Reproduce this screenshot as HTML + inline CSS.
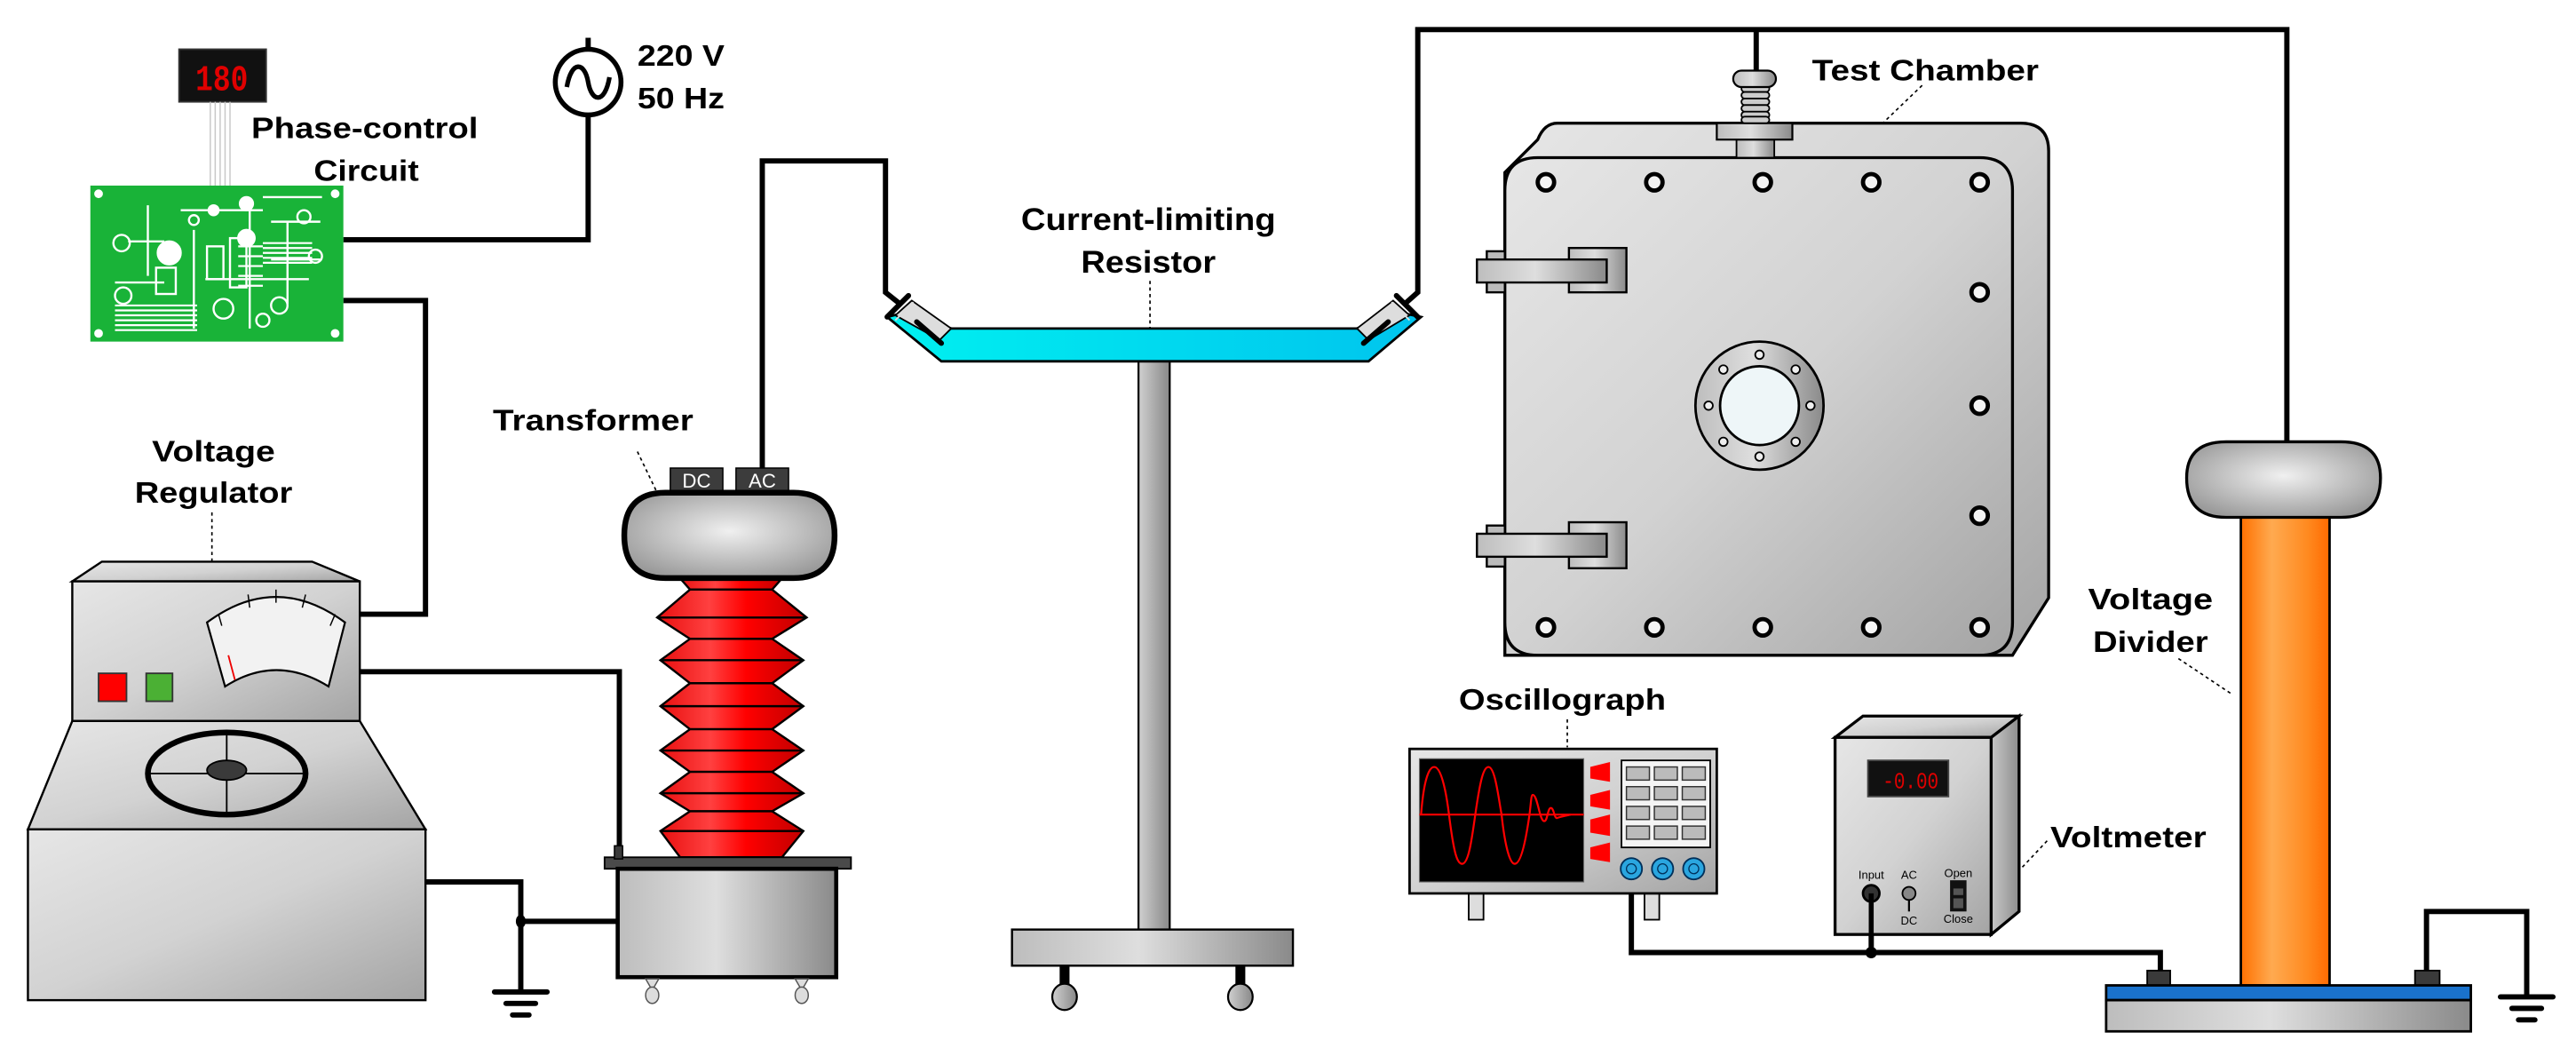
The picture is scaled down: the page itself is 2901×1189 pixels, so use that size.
<!DOCTYPE html>
<html><head><meta charset="utf-8"><style>
html,body{margin:0;padding:0;background:#fff;}
svg{display:block;}
text{font-family:"Liberation Sans",Arial,sans-serif;font-weight:bold;fill:#000;}
</style></head><body>
<svg width="2901" height="1189" viewBox="0 0 1568 643" preserveAspectRatio="none" xmlns="http://www.w3.org/2000/svg">
<defs>
<linearGradient id="gm" x1="0" y1="0" x2="1" y2="1"><stop offset="0" stop-color="#e6e6e6"/><stop offset="0.5" stop-color="#d2d2d2"/><stop offset="1" stop-color="#a4a4a4"/></linearGradient>
<linearGradient id="gh" x1="0" y1="0" x2="1" y2="0"><stop offset="0" stop-color="#bdbdbd"/><stop offset="0.45" stop-color="#dedede"/><stop offset="1" stop-color="#8a8a8a"/></linearGradient>
<linearGradient id="gside" x1="0" y1="0" x2="1" y2="0"><stop offset="0" stop-color="#c8c8c8"/><stop offset="1" stop-color="#8d8d8d"/></linearGradient>
<radialGradient id="gdome" cx="0.5" cy="0.45" r="0.6"><stop offset="0" stop-color="#f0f0f0"/><stop offset="1" stop-color="#9a9a9a"/></radialGradient>
<linearGradient id="gred" x1="0" y1="0" x2="1" y2="0"><stop offset="0" stop-color="#e81010"/><stop offset="0.35" stop-color="#ff4040"/><stop offset="0.6" stop-color="#ff0000"/><stop offset="1" stop-color="#c00000"/></linearGradient>
<linearGradient id="gor" x1="0" y1="0" x2="1" y2="0"><stop offset="0" stop-color="#ff7000"/><stop offset="0.35" stop-color="#ffaa50"/><stop offset="0.75" stop-color="#ff8a20"/><stop offset="1" stop-color="#ff6a00"/></linearGradient>
<linearGradient id="gcy" x1="0" y1="0" x2="1" y2="0"><stop offset="0" stop-color="#00f0f0"/><stop offset="1" stop-color="#00c4ee"/></linearGradient>
<linearGradient id="gpole" x1="0" y1="0" x2="1" y2="0"><stop offset="0" stop-color="#d0d0d0"/><stop offset="1" stop-color="#888"/></linearGradient>
</defs>

<!-- ===== Wires ===== -->
<g fill="none" stroke="#000" stroke-width="3.2" stroke-linejoin="miter">
<polyline points="358,70 358,146 209,146"/>
<line x1="358" y1="23" x2="358" y2="30"/>
<polyline points="209,183 259,183 259,374 219,374"/>
<polyline points="219,409 377,409 377,516"/>
<polyline points="259,537 317,537 317,603"/>
<line x1="317" y1="561" x2="376" y2="561"/>
<polyline points="464,285 464,98 539,98 539,178 549,186"/>
<polyline points="854,186 863,178 863,18 1392,18 1392,269"/>
<line x1="1069" y1="18" x2="1069" y2="43"/>
<polyline points="993,544 993,580 1315,580 1315,592"/>
<line x1="1139" y1="544" x2="1139" y2="580"/>
<polyline points="1477,592 1477,555 1538,555 1538,607"/>
</g>
<circle cx="1139" cy="580" r="3.5"/>
<ellipse cx="317" cy="561" rx="3" ry="4"/>
<g stroke="#000" stroke-width="3.2" stroke-linecap="round">
<line x1="301" y1="604" x2="333" y2="604"/><line x1="308" y1="611" x2="326" y2="611"/><line x1="312" y1="618" x2="322" y2="618"/>
<line x1="1522" y1="607" x2="1554" y2="607"/><line x1="1529" y1="614" x2="1547" y2="614"/><line x1="1533" y1="621" x2="1543" y2="621"/>
</g>

<!-- ===== AC source ===== -->
<circle cx="358" cy="50" r="20" fill="#fff" stroke="#000" stroke-width="3"/>
<path d="M345,53 C348,36 356,38 358,50 C360,62 368,64 371,47" fill="none" stroke="#000" stroke-width="2.8"/>
<text x="388" y="40" font-size="18" textLength="53" lengthAdjust="spacingAndGlyphs">220 V</text>
<text x="388" y="66" font-size="18" textLength="53" lengthAdjust="spacingAndGlyphs">50 Hz</text>

<!-- ===== Display 180 + PCB ===== -->
<rect x="109" y="30" width="53" height="32" fill="#111" stroke="#333" stroke-width="1"/>
<text x="135" y="55" font-size="22" text-anchor="middle" style="fill:#e00000;font-family:'Liberation Mono',monospace" textLength="32" lengthAdjust="spacingAndGlyphs">180</text>
<g stroke="#c8c8c8" stroke-width="0.8"><line x1="128" y1="62" x2="128" y2="113"/><line x1="131" y1="62" x2="131" y2="113"/><line x1="134" y1="62" x2="134" y2="113"/><line x1="137" y1="62" x2="137" y2="113"/><line x1="140" y1="62" x2="140" y2="113"/></g>
<text x="153" y="84" font-size="18" textLength="138" lengthAdjust="spacingAndGlyphs">Phase-control</text>
<text x="191" y="110" font-size="18" textLength="64" lengthAdjust="spacingAndGlyphs">Circuit</text>
<rect x="55" y="113" width="154" height="95" fill="#19b338"/>
<g stroke="#fff" stroke-width="1.3" fill="none">
<circle cx="60" cy="118" r="2" fill="#fff"/><circle cx="204" cy="118" r="2" fill="#fff"/><circle cx="60" cy="203" r="2" fill="#fff"/><circle cx="204" cy="203" r="2" fill="#fff"/>
<circle cx="74" cy="148" r="5"/><circle cx="103" cy="154" r="7" fill="#fff"/><circle cx="75" cy="180" r="5"/><circle cx="150" cy="145" r="5" fill="#fff"/>
<circle cx="185" cy="132" r="4"/><circle cx="170" cy="186" r="5"/><circle cx="192" cy="156" r="4"/><circle cx="136" cy="188" r="6"/>
<circle cx="150" cy="124" r="4" fill="#fff"/><circle cx="118" cy="134" r="3"/><circle cx="130" cy="128" r="3" fill="#fff"/><circle cx="160" cy="195" r="4"/>
<line x1="78" y1="147" x2="100" y2="147"/><line x1="152" y1="128" x2="152" y2="200"/><line x1="110" y1="128" x2="160" y2="128"/>
<line x1="165" y1="135" x2="195" y2="135"/><line x1="165" y1="158" x2="195" y2="158"/><line x1="175" y1="135" x2="175" y2="185"/>
<line x1="70" y1="172" x2="100" y2="172"/><line x1="125" y1="170" x2="188" y2="170"/>
<line x1="90" y1="125" x2="90" y2="168"/><line x1="118" y1="140" x2="118" y2="200"/><line x1="160" y1="120" x2="196" y2="120"/>
<rect x="126" y="150" width="10" height="20"/><rect x="95" y="163" width="12" height="16"/><rect x="140" y="145" width="10" height="30"/>
</g>
<g stroke="#fff" stroke-width="1.2">
<line x1="160" y1="148" x2="190" y2="148"/><line x1="160" y1="151" x2="190" y2="151"/><line x1="160" y1="154" x2="190" y2="154"/><line x1="160" y1="157" x2="190" y2="157"/><line x1="160" y1="160" x2="190" y2="160"/>
<line x1="70" y1="186" x2="120" y2="186"/><line x1="70" y1="189" x2="120" y2="189"/><line x1="70" y1="192" x2="120" y2="192"/><line x1="70" y1="195" x2="120" y2="195"/><line x1="70" y1="198" x2="120" y2="198"/><line x1="70" y1="201" x2="120" y2="201"/>
<line x1="145" y1="150" x2="160" y2="150"/><line x1="145" y1="156" x2="160" y2="156"/><line x1="145" y1="162" x2="160" y2="162"/><line x1="145" y1="168" x2="160" y2="168"/><line x1="145" y1="174" x2="160" y2="174"/>
</g>

<!-- ===== Voltage regulator ===== -->
<text x="130" y="281" font-size="18" text-anchor="middle" textLength="75" lengthAdjust="spacingAndGlyphs">Voltage</text>
<text x="130" y="306" font-size="18" text-anchor="middle" textLength="96" lengthAdjust="spacingAndGlyphs">Regulator</text>
<line x1="129" y1="312" x2="129" y2="342" stroke="#000" stroke-width="0.9" stroke-dasharray="2,2"/>
<polygon points="62,342 190,342 219,354 44,354" fill="url(#gm)" stroke="#000" stroke-width="1.3"/>
<rect x="44" y="354" width="175" height="85" fill="url(#gm)" stroke="#000" stroke-width="1.3"/>
<rect x="60" y="410" width="17" height="17" fill="#f00" stroke="#333"/>
<rect x="89" y="410" width="16" height="17" fill="#4bb034" stroke="#333"/>
<path d="M126,379 Q168,348 210,379 L200,418 Q168,398 137,418 Z" fill="#f2f2f2" stroke="#000" stroke-width="1.2"/>
<g stroke="#000" stroke-width="0.8"><line x1="133" y1="374" x2="135" y2="381"/><line x1="151" y1="362" x2="152" y2="370"/><line x1="168" y1="359" x2="168" y2="367"/><line x1="186" y1="362" x2="184" y2="370"/><line x1="204" y1="374" x2="201" y2="381"/></g>
<line x1="139" y1="399" x2="143" y2="414" stroke="#e00" stroke-width="1"/>
<polygon points="44,439 219,439 259,505 17,505" fill="url(#gm)" stroke="#000" stroke-width="1.3"/>
<rect x="17" y="505" width="242" height="104" fill="url(#gm)" stroke="#000" stroke-width="1.3"/>
<ellipse cx="138" cy="471" rx="48" ry="25" fill="none" stroke="#000" stroke-width="3.5"/>
<line x1="90" y1="471" x2="186" y2="471" stroke="#000" stroke-width="1"/><line x1="138" y1="446" x2="138" y2="496" stroke="#000" stroke-width="1"/>
<ellipse cx="138" cy="469" rx="12" ry="6" fill="#3a3a3a" stroke="#000"/>

<!-- ===== Transformer ===== -->
<text x="300" y="262" font-size="18" textLength="122" lengthAdjust="spacingAndGlyphs">Transformer</text>
<line x1="388" y1="275" x2="400" y2="300" stroke="#000" stroke-width="0.9" stroke-dasharray="2,2"/>
<rect x="408" y="285" width="32" height="14" fill="#3c3c3c" stroke="#000" stroke-width="0.8"/>
<rect x="448" y="285" width="32" height="14" fill="#3c3c3c" stroke="#000" stroke-width="0.8"/>
<text x="424" y="297" font-size="12" text-anchor="middle" style="fill:#fff;font-weight:normal">DC</text>
<text x="464" y="297" font-size="12" text-anchor="middle" style="fill:#fff;font-weight:normal">AC</text>
<g stroke="#000" stroke-width="1.3" fill="url(#gred)">
<polygon points="413,351 477,351 470,359 420,359"/>
<polygon points="420,359 470,359 491,376 470,389 420,389 400,376"/>
<line x1="400" y1="376" x2="491" y2="376"/>
<polygon points="420,389 470,389 489,402 470,416 420,416 402,402"/>
<line x1="402" y1="402" x2="489" y2="402"/>
<polygon points="420,416 470,416 489,430 470,444 420,444 402,430"/>
<line x1="402" y1="430" x2="489" y2="430"/>
<polygon points="420,444 470,444 489,457 470,470 420,470 402,457"/>
<line x1="402" y1="457" x2="489" y2="457"/>
<polygon points="420,470 470,470 489,483 470,494 420,494 402,483"/>
<line x1="402" y1="483" x2="489" y2="483"/>
<polygon points="420,494 470,494 489,506 476,522 414,522 402,506"/>
<line x1="402" y1="506" x2="489" y2="506"/>
</g>
<path d="M405,300 L483,300 Q508,300 508,326 Q508,352 483,352 L405,352 Q380,352 380,326 Q380,300 405,300 Z" fill="url(#gdome)" stroke="#000" stroke-width="3.5"/>
<rect x="368" y="522" width="150" height="7" fill="#4a4a4a" stroke="#000" stroke-width="1"/>
<rect x="374" y="515" width="5" height="8" fill="#3a3a3a" stroke="#000" stroke-width="0.8"/>
<rect x="376" y="529" width="133" height="66" fill="url(#gh)" stroke="#000" stroke-width="2.5"/>
<g fill="#ddd" stroke="#555" stroke-width="0.8">
<polygon points="393,596 401,596 397,603"/><ellipse cx="397" cy="606" rx="4" ry="5"/>
<polygon points="484,596 492,596 488,603"/><ellipse cx="488" cy="606" rx="4" ry="5"/>
</g>

<!-- ===== Current-limiting resistor ===== -->
<text x="699" y="140" font-size="19" text-anchor="middle" textLength="155" lengthAdjust="spacingAndGlyphs">Current-limiting</text>
<text x="699" y="166" font-size="19" text-anchor="middle" textLength="82" lengthAdjust="spacingAndGlyphs">Resistor</text>
<line x1="700" y1="171" x2="700" y2="200" stroke="#000" stroke-width="0.9" stroke-dasharray="2,2"/>
<rect x="693" y="220" width="19" height="346" fill="url(#gpole)" stroke="#000" stroke-width="1.2"/>
<polygon points="552,190 579,200 826,200 851,190 865,193 833,220 573,220 540,193" fill="url(#gcy)" stroke="#000" stroke-width="1.5"/>
<!-- end fittings -->
<polygon points="545,192 555,183 579,200 572,207" fill="#ddd" stroke="#000" stroke-width="1"/>
<polygon points="858,192 848,183 826,200 833,207" fill="#ddd" stroke="#000" stroke-width="1"/>
<g stroke="#000" stroke-width="3.2" stroke-linecap="round">
<line x1="540" y1="193" x2="553" y2="180"/><line x1="573" y1="209" x2="558" y2="196"/>
<line x1="863" y1="193" x2="850" y2="180"/><line x1="830" y1="209" x2="845" y2="196"/>
</g>
<line x1="545" y1="195" x2="556" y2="184" stroke="#ddd" stroke-width="1"/>
<line x1="858" y1="195" x2="847" y2="184" stroke="#ddd" stroke-width="1"/>
<rect x="616" y="566" width="171" height="22" fill="url(#gh)" stroke="#000" stroke-width="1.3"/>
<rect x="645" y="588" width="6" height="12" fill="#000"/><rect x="752" y="588" width="6" height="12" fill="#000"/>
<ellipse cx="648" cy="607" rx="7.5" ry="8" fill="url(#gpole)" stroke="#000" stroke-width="1.2"/>
<ellipse cx="755" cy="607" rx="7.5" ry="8" fill="url(#gpole)" stroke="#000" stroke-width="1.2"/>

<!-- ===== Test chamber ===== -->
<text x="1103" y="49" font-size="18" textLength="138" lengthAdjust="spacingAndGlyphs">Test Chamber</text>
<line x1="1170" y1="52" x2="1146" y2="75" stroke="#000" stroke-width="0.9" stroke-dasharray="2,2"/>
<path d="M948,75 L1230,75 Q1247,75 1247,92 L1247,364 L1225,399 L916,399 L916,105 L936,85 Q940,75 948,75 Z" fill="url(#gm)" stroke="#000" stroke-width="1.8"/>
<path d="M936,96 L1205,96 Q1225,96 1225,116 L1225,379 Q1225,399 1205,399 L936,399 Q916,399 916,379 L916,116 Q916,96 936,96 Z" fill="url(#gm)" stroke="#000" stroke-width="1.8"/>
<rect x="1057" y="85" width="23" height="11" fill="url(#gh)" stroke="#000" stroke-width="1"/>
<rect x="1045" y="75" width="46" height="10" fill="url(#gh)" stroke="#000" stroke-width="1.2"/>
<g fill="#ccc" stroke="#000" stroke-width="1"><rect x="1060" y="52" width="17" height="4" rx="2"/><rect x="1060" y="56" width="17" height="4" rx="2"/><rect x="1060" y="60" width="17" height="4" rx="2"/><rect x="1060" y="64" width="17" height="4" rx="2"/><rect x="1060" y="68" width="17" height="4" rx="2"/><rect x="1060" y="71" width="17" height="4" rx="2"/></g>
<rect x="1055" y="43" width="26" height="10" rx="5" fill="url(#gh)" stroke="#000" stroke-width="1.2"/>
<g fill="#f4f4f4" stroke="#000" stroke-width="2.6">
<circle cx="941" cy="111" r="5"/><circle cx="1007" cy="111" r="5"/><circle cx="1073" cy="111" r="5"/><circle cx="1139" cy="111" r="5"/><circle cx="1205" cy="111" r="5"/>
<circle cx="941" cy="382" r="5"/><circle cx="1007" cy="382" r="5"/><circle cx="1073" cy="382" r="5"/><circle cx="1139" cy="382" r="5"/><circle cx="1205" cy="382" r="5"/>
<circle cx="1205" cy="178" r="5"/><circle cx="1205" cy="247" r="5"/><circle cx="1205" cy="314" r="5"/>
</g>
<g stroke="#000" stroke-width="1.3">
<rect x="905" y="153" width="11" height="25" fill="#bbb"/><rect x="955" y="151" width="35" height="27" fill="url(#gh)"/><rect x="899" y="158" width="79" height="14" fill="url(#gh)"/>
<rect x="905" y="320" width="11" height="25" fill="#bbb"/><rect x="955" y="318" width="35" height="28" fill="url(#gh)"/><rect x="899" y="325" width="79" height="14" fill="url(#gh)"/>
</g>
<ellipse cx="1071" cy="247" rx="39" ry="39" fill="url(#gh)" stroke="#000" stroke-width="1.5"/>
<ellipse cx="1071" cy="247" rx="24" ry="24" fill="#eef6f8" stroke="#000" stroke-width="1.5"/>
<g fill="#eee" stroke="#000" stroke-width="1">
<circle cx="1071" cy="216" r="2.6"/><circle cx="1093" cy="225" r="2.6"/><circle cx="1102" cy="247" r="2.6"/><circle cx="1093" cy="269" r="2.6"/><circle cx="1071" cy="278" r="2.6"/><circle cx="1049" cy="269" r="2.6"/><circle cx="1040" cy="247" r="2.6"/><circle cx="1049" cy="225" r="2.6"/>
</g>

<!-- ===== Voltage divider ===== -->
<text x="1309" y="371" font-size="18" text-anchor="middle" textLength="76" lengthAdjust="spacingAndGlyphs">Voltage</text>
<text x="1309" y="397" font-size="18" text-anchor="middle" textLength="70" lengthAdjust="spacingAndGlyphs">Divider</text>
<line x1="1326" y1="401" x2="1359" y2="423" stroke="#000" stroke-width="0.9" stroke-dasharray="2,2"/>
<rect x="1364" y="314" width="54" height="286" fill="url(#gor)" stroke="#000" stroke-width="1.5"/>
<path d="M1355,269 L1425,269 Q1449,269 1449,291 Q1449,315 1425,315 L1355,315 Q1331,315 1331,291 Q1331,269 1355,269 Z" fill="url(#gdome)" stroke="#000" stroke-width="1.8"/>
<rect x="1307" y="591" width="14" height="9" fill="#3a3a3a" stroke="#000"/>
<rect x="1470" y="591" width="15" height="9" fill="#3a3a3a" stroke="#000"/>
<rect x="1282" y="600" width="222" height="9" fill="#1a72cc" stroke="#000" stroke-width="1.5"/>
<rect x="1282" y="609" width="222" height="19" fill="url(#gh)" stroke="#000" stroke-width="1.5"/>

<!-- ===== Oscillograph ===== -->
<text x="888" y="432" font-size="18" textLength="126" lengthAdjust="spacingAndGlyphs">Oscillograph</text>
<line x1="954" y1="438" x2="954" y2="455" stroke="#000" stroke-width="0.9" stroke-dasharray="2,2"/>
<rect x="894" y="544" width="9" height="16" fill="#ddd" stroke="#000"/>
<rect x="1001" y="544" width="9" height="16" fill="#ddd" stroke="#000"/>
<rect x="858" y="456" width="187" height="88" fill="url(#gm)" stroke="#000" stroke-width="1.5"/>
<rect x="864" y="462" width="100" height="75" fill="#000" stroke="#666" stroke-width="0.6"/>
<line x1="864" y1="496" x2="964" y2="496" stroke="#f00" stroke-width="1.2"/>
<path d="M865,496 C867,470 871,467 873,467 C877,467 880,480 882,496 C885,520 887,526 890,526 C894,526 896,510 898,496 C901,475 903,467 906,467 C910,467 912,485 914,496 C916,515 919,526 922,526 C926,526 929,510 931,496 C932,488 932,484 933,484 C936,484 937,500 940,500 C942,500 942,492 944,492 C946,492 946,499 948,498 C951,497 952,497 956,496" fill="none" stroke="#f00" stroke-width="1.2"/>
<g fill="#f00"><polygon points="968,467 980,464 980,476 968,474"/><polygon points="968,484 980,481 980,493 968,491"/><polygon points="968,499 980,496 980,509 968,507"/><polygon points="968,516 980,513 980,525 968,523"/></g>
<rect x="987" y="463" width="54" height="53" fill="#f4f4f4" stroke="#000" stroke-width="1"/>
<g fill="#bbb" stroke="#333" stroke-width="0.8">
<rect x="990" y="467" width="14" height="8"/><rect x="1007" y="467" width="14" height="8"/><rect x="1024" y="467" width="14" height="8"/>
<rect x="990" y="479" width="14" height="8"/><rect x="1007" y="479" width="14" height="8"/><rect x="1024" y="479" width="14" height="8"/>
<rect x="990" y="491" width="14" height="8"/><rect x="1007" y="491" width="14" height="8"/><rect x="1024" y="491" width="14" height="8"/>
<rect x="990" y="503" width="14" height="8"/><rect x="1007" y="503" width="14" height="8"/><rect x="1024" y="503" width="14" height="8"/>
</g>
<g fill="#2aa6e0" stroke="#00305a" stroke-width="1">
<circle cx="993" cy="529" r="6.5"/><circle cx="1012" cy="529" r="6.5"/><circle cx="1031" cy="529" r="6.5"/>
</g>
<g fill="none" stroke="#00305a" stroke-width="0.7"><circle cx="993" cy="529" r="3"/><circle cx="1012" cy="529" r="3"/><circle cx="1031" cy="529" r="3"/></g>

<!-- ===== Voltmeter ===== -->
<text x="1248" y="516" font-size="18" textLength="95" lengthAdjust="spacingAndGlyphs">Voltmeter</text>
<line x1="1231" y1="528" x2="1247" y2="511" stroke="#000" stroke-width="0.9" stroke-dasharray="2,2"/>
<polygon points="1117,449 1134,436 1229,436 1212,449" fill="url(#gm)" stroke="#000" stroke-width="1.8"/>
<polygon points="1212,449 1229,436 1229,555 1212,569" fill="url(#gside)" stroke="#000" stroke-width="1.8"/>
<rect x="1117" y="449" width="95" height="120" fill="url(#gm)" stroke="#000" stroke-width="1.8"/>
<rect x="1137" y="463" width="49" height="22" fill="#111" stroke="#444"/>
<text x="1180" y="480" font-size="14" text-anchor="end" style="fill:#e00000;font-weight:normal;font-family:'Liberation Mono',monospace" textLength="34" lengthAdjust="spacingAndGlyphs">-0.00</text>
<g font-size="7" text-anchor="middle">
<text x="1139" y="535" style="font-weight:normal">Input</text>
<text x="1162" y="535" style="font-weight:normal">AC</text>
<text x="1162" y="563" style="font-weight:normal">DC</text>
<text x="1192" y="534" style="font-weight:normal">Open</text>
<text x="1192" y="562" style="font-weight:normal">Close</text>
</g>
<circle cx="1139" cy="544" r="5" fill="#333" stroke="#000" stroke-width="1.5"/>
<line x1="1162" y1="546" x2="1162" y2="555" stroke="#000" stroke-width="1.2"/>
<circle cx="1162" cy="544" r="4" fill="#888" stroke="#000" stroke-width="1"/>
<rect x="1187" y="536" width="10" height="19" fill="#111"/>
<rect x="1189" y="541" width="6" height="4" fill="#555"/><rect x="1189" y="547" width="6" height="6" fill="#555"/>
<line x1="1139" y1="544" x2="1139" y2="580" stroke="#000" stroke-width="3"/>
</svg>
</body></html>
